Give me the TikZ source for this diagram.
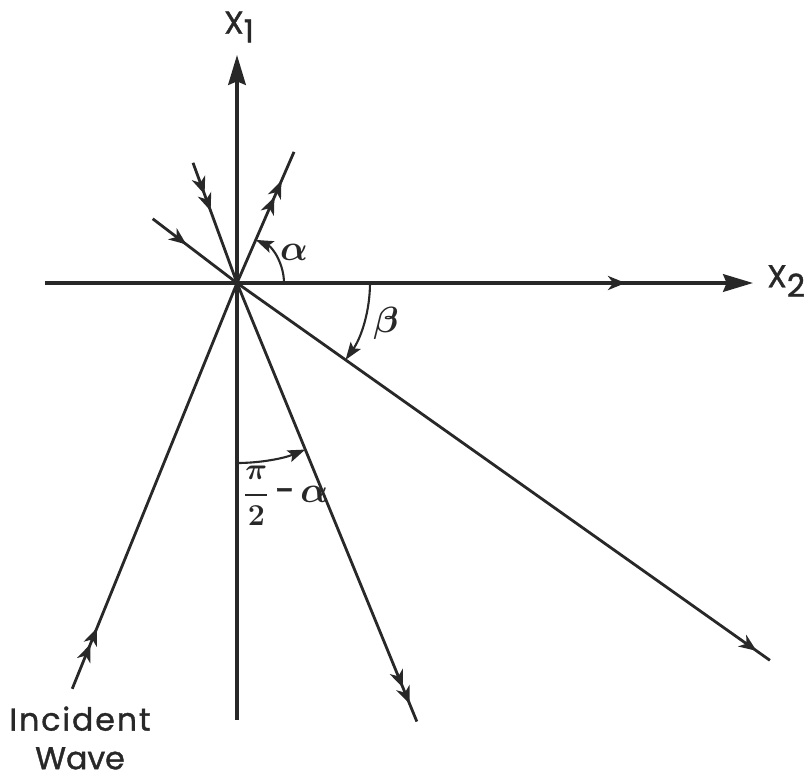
\documentclass[tikz,border=0pt]{standalone}
\usepackage{amsmath}
\usepackage{fontspec}
\setmainfont{Poppins}[FakeBold=1.2]
\usepackage{tikz}
\usetikzlibrary{arrows.meta,decorations.markings}
\usepackage{xcolor}
\definecolor{ink}{RGB}{40,40,40}

\tikzset{
  ray/.style={ink,line width=1.6pt},
  axisline/.style={ink,line width=2pt},
  midtip/.style={postaction={decorate,decoration={markings,
    mark=at position #1 with {\arrow{Stealth[length=10pt,width=8pt,inset=3pt]}}}}},
  twotips/.style={postaction={decorate,decoration={markings,
    mark=at position #1 with {\arrow{Stealth[length=10pt,width=8pt,inset=3pt] Stealth[length=10pt,width=8pt,inset=3pt]}}}}},
  anglearc/.style={ink,line width=1.2pt,-{Stealth[length=10pt,width=7pt,inset=2pt]}},
  lbl/.style={text=ink,font=\fontsize{18}{22}\selectfont}
}

\begin{document}
\begin{tikzpicture}[x=0.02cm,y=0.02cm]
  % --- frame ---
  \useasboundingbox (-237,-499) rectangle (574,283);

  % --- points ---
  \coordinate (O) at (0,0);
  \coordinate (xleft) at (-192,0);
  \coordinate (xright) at (516,0);
  \coordinate (ybot) at (0,-437);
  \coordinate (ytop) at (0,228);
  \coordinate (incident) at (247.9:438);
  \coordinate (refl) at (-67.7:474);
  \coordinate (trans) at (-35.3:653);
  \coordinate (upreft) at (66.5:143);
  \coordinate (upinA) at (110.1:128);
  \coordinate (upinB) at (142.7:106);

  % --- axes ---
  \draw[axisline,-{Stealth[length=17pt,width=10pt,inset=2pt]},midtip=0.82] (xleft) -- (xright);
  \draw[axisline,-{Stealth[length=17pt,width=10pt,inset=2pt]}] (ybot) -- (ytop);
  \node[lbl,anchor=west] (xtwo) at (524,2) {X\raisebox{-0.55ex}{2}};
  \node[lbl] (xone) at (2,256) {X\raisebox{-0.5ex}{1}};

  % --- rays ---
  \draw[ray,twotips=0.15] (incident) -- (O);
  \draw[ray,twotips=0.96] (O) -- (refl);
  \draw[ray,midtip=0.975] (O) -- (trans);
  \draw[ray,twotips=0.78] (O) -- (upreft);
  \draw[ray,twotips=0.40] (upinA) -- (O);
  \draw[ray,midtip=0.40] (upinB) -- (O);

  % --- angles ---
  \draw[anglearc] (0:47) arc[start angle=0,end angle=66.5,radius=47];
  \node[lbl,font=\fontsize{20}{22}\selectfont] (alpha) at (57,31) {$\boldsymbol{\alpha}$};
  \draw[anglearc] (0:133) arc[start angle=0,end angle=-35.3,radius=133];
  \node[lbl,font=\fontsize{20}{22}\selectfont] (beta) at (149,-40) {$\boldsymbol{\beta}$};
  \draw[anglearc] (-90:180) arc[start angle=-90,end angle=-67.7,radius=180];
  \node[lbl,font=\fontsize{20}{22}\selectfont,anchor=west,inner sep=0pt] (halfpi) at (6,-213)
    {{\fontsize{16}{18}\selectfont$\boldsymbol{\dfrac{\pi}{2}}$}\,-\,$\boldsymbol{\alpha}$};

  % --- caption ---
  \node[lbl,align=center] (wave) at (-157,-455)
    {\addfontfeature{LetterSpace=6}Incident\\Wave};

\end{tikzpicture}
\end{document}
